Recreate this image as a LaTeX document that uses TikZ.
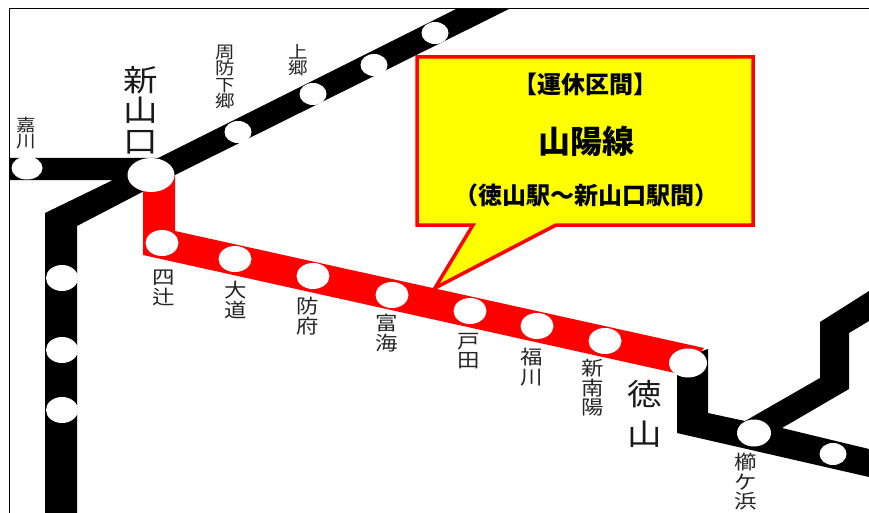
\documentclass[tikz,border=0pt]{standalone}
\usepackage{fontspec}
\setmainfont{Noto Sans CJK JP}
\newfontfamily\wide[FakeStretch=1.15]{Noto Sans CJK JP}
\usetikzlibrary{shapes.geometric}
\definecolor{calloutyellow}{RGB}{255,255,0}
\definecolor{linered}{RGB}{255,0,0}
\tikzset{
  track/.style={fill=black,draw=none},
  redtrack/.style={fill=linered,draw=none},
  stn/.style={ellipse,fill=white,draw=none,inner sep=0pt},
  stnA/.style={stn,minimum width=27pt,minimum height=22pt},
  stnB/.style={stn,minimum width=33pt,minimum height=26pt},
  small/.style={text=black!85,align=center,inner sep=0pt,font=\wide\fontsize{17}{16.5}\selectfont},
  medium/.style={text=black!85,align=center,inner sep=0pt,font=\wide\fontsize{19.5}{19.5}\selectfont},
  big/.style={text=black!90,align=center,inner sep=0pt,font=\wide\fontsize{30}{30.5}\selectfont},
  callout/.style={draw=linered,line width=3.5pt,fill=calloutyellow,miter limit=10},
  caltext/.style={inner sep=0pt,font=\bfseries\fontsize{24}{26}\selectfont},
}
\begin{document}
\begin{tikzpicture}[x=1pt,y=-1pt]
\useasboundingbox (0,0) rectangle (869,513);
\fill[white] (0,0) rectangle (869,513);
% tracks
\fill[track] (9,158) -- (158,158) -- (456,9) -- (509,9) -- (175,175) -- (77,226) -- (77,513) -- (45,513) -- (45,213) -- (113,180) -- (9,180) -- cycle;
\fill[track] (677,360) -- (677,433) -- (869,477) -- (869,449) -- (782,428) -- (849,389) -- (849,333) -- (869,321) -- (869,291) -- (820,322) -- (820,378) -- (745,421) -- (708,413) -- (708,349) -- cycle;
\fill[redtrack] (143,175) -- (175,175) -- (175,231) -- (704,348) -- (690,365) -- (675,373) -- (143,255) -- cycle;
% frame
\draw[black,line width=1pt] (9,513) -- (9,9) -- (869,9);
% stations
\node[stn,minimum width=31pt,minimum height=23pt] (kawa) at (27,168) {};
\node[stn,minimum width=47pt,minimum height=34pt] (shinyama) at (151,175) {};
\node[stnA] (suo) at (238,132) {};
\node[stnA] (kamigo) at (313,94) {};
\node[stnA] (s3) at (374,65) {};
\node[stnA] (s4) at (435,33) {};
\node[stnB] (yotsu) at (162,243) {};
\node[stnB] (daido) at (235,259) {};
\node[stnB] (hofu) at (313,276) {};
\node[stnB] (tonomi) at (392,295) {};
\node[stnB] (heta) at (470,311) {};
\node[stnB] (fuku) at (537,326) {};
\node[stnB] (shinnan) at (605,341) {};
\node[stn,minimum width=38pt,minimum height=29pt] (toku) at (688,363) {};
\node[stn,minimum width=32pt,minimum height=26pt] (l1) at (62,278) {};
\node[stn,minimum width=32pt,minimum height=26pt] (l2) at (62,350) {};
\node[stn,minimum width=32pt,minimum height=26pt] (l3) at (62,410) {};
\node[stn,minimum width=34pt,minimum height=27pt] (kushi) at (754,433) {};
\node[stnA] (r2) at (833,454) {};
% labels
\node[small] (tkawa) at (26,133) {嘉\\川};
\node[big] (tshin) at (141,110) {新\\山\\口};
\node[small] (tsuo) at (225,77) {周\\防\\下\\郷};
\node[small] (tkami) at (298,60) {上\\郷};
\node[medium] (tyotsu) at (164,288) {四\\辻};
\node[medium] (tdaido) at (236,300) {大\\道};
\node[medium] (thofu) at (308,316) {防\\府};
\node[medium] (ttono) at (387,333) {富\\海};
\node[medium] (theta) at (469,351) {戸\\田};
\node[medium] (tfuku) at (532,367) {福\\川};
\node[medium] (tshinnan) at (593,388) {新\\南\\陽};
\node[big,font=\wide\fontsize{30}{40}\selectfont] (ttoku) at (645,414) {徳\\山};
\node[medium] (tkushi) at (746,482) {櫛\\ケ\\浜};
% callout
\draw[callout] (417,57) -- (753,57) -- (753,225) -- (556,225) -- (435,288) -- (473,225) -- (417,225) -- cycle;
\node[caltext] (c1) at (585,84) {【運休区間】};
\node[caltext,font=\bfseries\fontsize{32}{34}\selectfont] (c2) at (586,141) {山陽線};
\node[caltext] (c3) at (586,195) {（徳山駅～新山口駅間）};
\end{tikzpicture}
\end{document}
